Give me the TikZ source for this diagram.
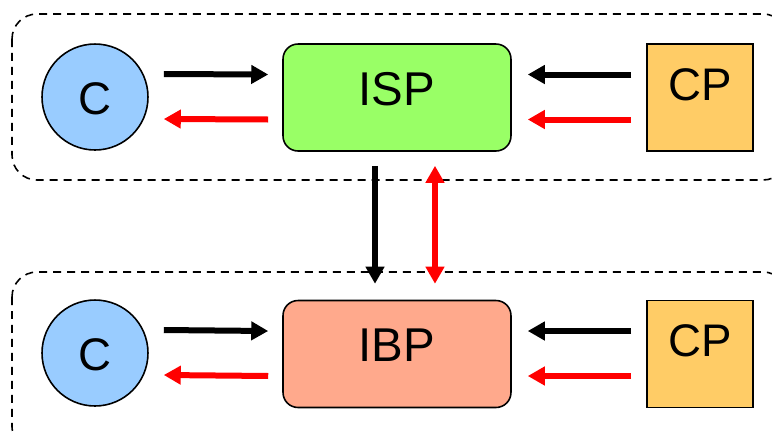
\documentclass[tikz,border=0pt]{standalone}
\usepackage{fontspec}
\setmainfont{Liberation Sans}
\usepackage{tikz}
\usetikzlibrary{arrows.meta,positioning}
\definecolor{custblue}{HTML}{99CCFF}
\definecolor{ispgreen}{HTML}{99FF66}
\definecolor{ibpsalmon}{HTML}{FFA98C}
\definecolor{cporange}{HTML}{FFCC66}

\begin{document}
\begin{tikzpicture}[
x=0.02cm, y=-0.02cm,
    U/.style = {circle, draw, line width=0.9pt,% customer
                minimum size=2.12cm, inner sep=0pt, fill=custblue,
                font=\fontsize{26pt}{30pt}\selectfont,
                text height=0.68cm, text depth=0cm},
    P/.style = {rectangle, rounded corners=0.3cm, draw, line width=0.9pt,% provider boxes
                minimum width=4.56cm, minimum height=2.14cm, inner sep=0pt,
                font=\fontsize{27pt}{32pt}\selectfont,
                text height=0.7cm, text depth=0.4cm},
    Q/.style = {rectangle, draw, line width=0.9pt,% content providers
                minimum width=2.12cm, minimum height=2.14cm, inner sep=0pt,
                fill=cporange, font=\fontsize{26pt}{30pt}\selectfont,
                text height=0.68cm, text depth=0.58cm},
  grp/.style = {draw, line width=0.9pt, dash pattern=on 0.16cm off 0.12cm,
                rounded corners=0.5cm},
  blk/.style = {line width=0.12cm, -{Triangle[length=0.34cm,width=0.36cm]}},
  red/.style = {blk, color=red},
                        ]
\useasboundingbox (0,0) rectangle (772,434);
% groups
\draw[grp] (12,14) rectangle (788,180);
\draw[grp] (12,272) rectangle (788,452);
% top row
\node[U] (cT) at (95,97) {C};
\node[P, fill=ispgreen] (isp) at (397,97.5) {ISP};
\node[Q] (cpT) at (700,97.5) {CP};
% bottom row
\node[U] (cB) at (95,353) {C};
\node[P, fill=ibpsalmon] (ibp) at (397,354) {IBP};
\node[Q] (cpB) at (700,354) {CP};
% arrows
\foreach \c/\b/\p in {cT/isp/cpT, cB/ibp/cpB}{
    \draw[blk] ([xshift=0.3cm,yshift=0.46cm]\c.east) -- ([xshift=-0.28cm,yshift=0.46cm]\b.west);
    \draw[red] ([xshift=-0.28cm,yshift=-0.44cm]\b.west) -- ([xshift=0.3cm,yshift=-0.44cm]\c.east);
    \draw[blk] ([xshift=-0.3cm,yshift=0.46cm]\p.west) -- ([xshift=0.32cm,yshift=0.46cm]\b.east);
    \draw[red] ([xshift=-0.3cm,yshift=-0.44cm]\p.west) -- ([xshift=0.32cm,yshift=-0.44cm]\b.east);
}
\draw[blk] ([xshift=-0.44cm,yshift=-0.28cm]isp.south) -- ([xshift=-0.44cm,yshift=0.32cm]ibp.north);
\draw[red, {Triangle[length=0.34cm,width=0.36cm]}-{Triangle[length=0.34cm,width=0.36cm]}]
    ([xshift=0.76cm,yshift=-0.28cm]isp.south) -- ([xshift=0.76cm,yshift=0.32cm]ibp.north);
\end{tikzpicture}
\end{document}
